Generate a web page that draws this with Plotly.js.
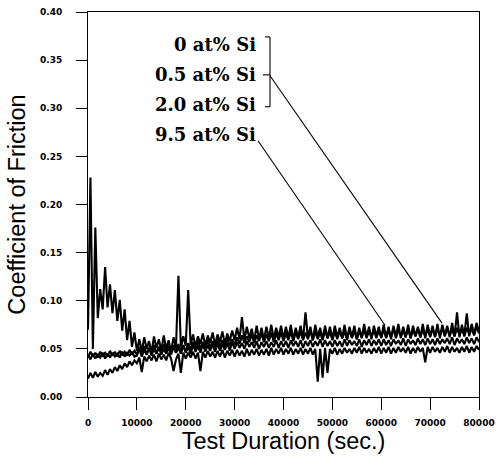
<!DOCTYPE html>
<html>
<head>
<meta charset="utf-8">
<script src="https://cdn.plot.ly/plotly-3.0.1.min.js"></script>
<style>html,body{margin:0;padding:0;background:#fff;}#chart{width:500px;height:466px;}</style>
</head>
<body>
<div id="chart"></div>
<script>
// Sampling times (sec.)
var time = [
  0,500,1000,1500,2000,2500,3000,3500,4000,4500,5000,5500,6000,6500,7000,7500,8000,8500,9000,9500,
  10000,10500,11000,11500,12000,12500,13000,13500,14000,14500,15000,15500,16000,16500,17000,17500,18000,18500,19000,19500,
  20000,20500,21000,21500,22000,22500,23000,23500,24000,24500,25000,25500,26000,26500,27000,27500,28000,28500,29000,29500,
  30000,30500,31000,31500,32000,32500,33000,33500,34000,34500,35000,35500,36000,36500,37000,37500,38000,38500,39000,39500,
  40000,40500,41000,41500,42000,42500,43000,43500,44000,44500,45000,45500,46000,46500,47000,47500,48000,48500,49000,49500,
  50000,50500,51000,51500,52000,52500,53000,53500,54000,54500,55000,55500,56000,56500,57000,57500,58000,58500,59000,59500,
  60000,60500,61000,61500,62000,62500,63000,63500,64000,64500,65000,65500,66000,66500,67000,67500,68000,68500,69000,69500,
  70000,70500,71000,71500,72000,72500,73000,73500,74000,74500,75000,75500,76000,76500,77000,77500,78000,78500,79000,79500,
  80000
];

// Coefficient of friction, 0 at% Si
var cof_0 = [
  0.070,0.228,0.050,0.176,0.082,0.112,0.091,0.135,0.093,0.117,0.087,0.111,0.079,0.101,0.069,0.091,0.059,0.079,0.052,0.067,
  0.048,0.060,0.047,0.062,0.050,0.058,0.046,0.063,0.051,0.060,0.048,0.064,0.050,0.059,0.047,0.062,0.051,0.126,0.052,0.063,
  0.053,0.111,0.054,0.065,0.052,0.063,0.055,0.066,0.053,0.064,0.056,0.067,0.054,0.065,0.057,0.068,0.055,0.066,0.058,0.069,
  0.059,0.072,0.060,0.083,0.059,0.073,0.061,0.071,0.058,0.074,0.060,0.072,0.059,0.073,0.061,0.075,0.060,0.072,0.062,0.074,
  0.060,0.073,0.061,0.075,0.059,0.072,0.062,0.074,0.060,0.088,0.061,0.073,0.059,0.075,0.062,0.072,0.060,0.074,0.061,0.073,
  0.060,0.074,0.062,0.072,0.061,0.075,0.059,0.073,0.062,0.074,0.060,0.072,0.061,0.076,0.062,0.073,0.060,0.074,0.063,0.073,
  0.061,0.075,0.062,0.073,0.060,0.074,0.063,0.076,0.061,0.073,0.062,0.075,0.061,0.074,0.063,0.073,0.062,0.076,0.061,0.075,
  0.063,0.074,0.062,0.076,0.061,0.075,0.064,0.074,0.062,0.077,0.063,0.088,0.062,0.075,0.064,0.087,0.063,0.076,0.065,0.077,
  0.068
];

// 0.5 at% Si
var cof_05 = [
  0.041,0.047,0.042,0.046,0.041,0.047,0.043,0.046,0.042,0.048,0.043,0.047,0.042,0.048,0.044,0.047,0.043,0.049,0.044,0.048,
  0.044,0.052,0.045,0.053,0.044,0.051,0.046,0.054,0.045,0.052,0.047,0.055,0.046,0.053,0.047,0.054,0.046,0.055,0.048,0.054,
  0.047,0.056,0.049,0.057,0.048,0.058,0.050,0.057,0.049,0.059,0.051,0.058,0.050,0.060,0.052,0.059,0.051,0.061,0.053,0.060,
  0.054,0.062,0.055,0.064,0.056,0.063,0.057,0.065,0.056,0.064,0.058,0.066,0.057,0.065,0.058,0.067,0.057,0.066,0.059,0.067,
  0.058,0.066,0.059,0.068,0.058,0.067,0.060,0.068,0.059,0.067,0.060,0.069,0.059,0.068,0.060,0.067,0.059,0.069,0.061,0.068,
  0.059,0.068,0.060,0.069,0.061,0.068,0.060,0.070,0.061,0.069,0.060,0.068,0.062,0.070,0.061,0.069,0.062,0.070,0.061,0.069,
  0.062,0.070,0.061,0.069,0.062,0.071,0.061,0.070,0.063,0.069,0.062,0.071,0.061,0.070,0.063,0.071,0.062,0.070,0.063,0.071,
  0.062,0.071,0.063,0.070,0.064,0.072,0.063,0.071,0.064,0.070,0.063,0.072,0.064,0.071,0.063,0.072,0.065,0.071,0.064,0.073,
  0.066
];

// 2.0 at% Si
var cof_20 = [
  0.044,0.039,0.045,0.040,0.044,0.041,0.046,0.040,0.045,0.041,0.046,0.042,0.045,0.041,0.047,0.042,0.046,0.043,0.047,0.042,
  0.043,0.050,0.042,0.049,0.044,0.051,0.043,0.050,0.045,0.052,0.044,0.050,0.045,0.051,0.044,0.052,0.046,0.051,0.045,0.053,
  0.046,0.052,0.045,0.054,0.047,0.053,0.046,0.055,0.047,0.054,0.048,0.055,0.047,0.056,0.048,0.055,0.049,0.056,0.048,0.057,
  0.050,0.057,0.051,0.056,0.050,0.058,0.052,0.057,0.051,0.058,0.050,0.057,0.052,0.058,0.051,0.057,0.052,0.059,0.051,0.058,
  0.052,0.058,0.051,0.059,0.053,0.058,0.052,0.059,0.051,0.058,0.053,0.059,0.052,0.058,0.053,0.060,0.052,0.059,0.053,0.058,
  0.052,0.059,0.053,0.058,0.052,0.060,0.053,0.059,0.054,0.058,0.053,0.060,0.052,0.059,0.054,0.060,0.053,0.059,0.054,0.060,
  0.053,0.060,0.054,0.059,0.053,0.060,0.055,0.059,0.054,0.061,0.053,0.060,0.055,0.059,0.054,0.061,0.055,0.060,0.054,0.061,
  0.055,0.060,0.054,0.061,0.055,0.060,0.056,0.061,0.055,0.062,0.054,0.061,0.056,0.060,0.055,0.062,0.056,0.061,0.055,0.062,
  0.057
];

// 9.5 at% Si
var cof_95 = [
  0.019,0.025,0.020,0.026,0.021,0.025,0.022,0.028,0.023,0.029,0.025,0.031,0.027,0.033,0.029,0.035,0.031,0.037,0.033,0.038,
  0.035,0.041,0.026,0.042,0.037,0.043,0.038,0.044,0.037,0.045,0.039,0.044,0.038,0.046,0.040,0.027,0.039,0.045,0.025,0.046,
  0.040,0.046,0.041,0.047,0.040,0.046,0.027,0.047,0.041,0.048,0.042,0.047,0.041,0.048,0.042,0.049,0.041,0.048,0.043,0.049,
  0.042,0.049,0.043,0.048,0.042,0.050,0.043,0.049,0.044,0.050,0.043,0.049,0.044,0.050,0.043,0.051,0.044,0.050,0.045,0.051,
  0.044,0.050,0.045,0.051,0.044,0.050,0.045,0.051,0.044,0.050,0.045,0.051,0.044,0.050,0.016,0.050,0.020,0.051,0.025,0.050,
  0.045,0.051,0.044,0.050,0.045,0.051,0.046,0.050,0.045,0.051,0.046,0.052,0.045,0.051,0.046,0.050,0.045,0.051,0.046,0.052,
  0.045,0.051,0.046,0.052,0.045,0.051,0.046,0.052,0.047,0.051,0.046,0.052,0.045,0.051,0.046,0.052,0.047,0.051,0.036,0.052,
  0.046,0.052,0.047,0.051,0.046,0.052,0.047,0.053,0.046,0.052,0.047,0.051,0.046,0.052,0.047,0.053,0.046,0.052,0.047,0.053,
  0.049
];

var seriesLabels = ["0 at% Si", "0.5 at% Si", "2.0 at% Si", "9.5 at% Si"];
var xTicks = [0,10000,20000,30000,40000,50000,60000,70000,80000];
var yTicks = [0,0.05,0.10,0.15,0.20,0.25,0.30,0.35,0.40];

var allSeries = [cof_0, cof_05, cof_20, cof_95];
var traces = allSeries.map(function (vals, i) {
  return {
    x: time, y: vals, type: 'scatter', mode: 'lines', name: seriesLabels[i],
    line: {color: '#000', width: 2.1}, showlegend: false, hoverinfo: 'x+y+name'
  };
});

var legendFont = {family: 'DejaVu Serif', size: 18, color: '#000', weight: 'bold'};
var labelY = [0.3658, 0.3347, 0.3036, 0.2725];
var annotations = seriesLabels.map(function (t, i) {
  return {x: 34800, y: labelY[i], xref: 'x', yref: 'y', text: t, showarrow: false,
          xanchor: 'right', yanchor: 'middle', font: legendFont};
});

var ln = {color: '#000', width: 1.1};
var shapes = [
  {type: 'line', xref: 'x', yref: 'y', x0: 37240, y0: 0.3741, x1: 37240, y1: 0.3016, line: ln},
  {type: 'line', xref: 'x', yref: 'y', x0: 36200, y0: 0.3741, x1: 37240, y1: 0.3741, line: ln},
  {type: 'line', xref: 'x', yref: 'y', x0: 35800, y0: 0.3347, x1: 37240, y1: 0.3347, line: ln},
  {type: 'line', xref: 'x', yref: 'y', x0: 36200, y0: 0.3016, x1: 37240, y1: 0.3016, line: ln},
  {type: 'line', xref: 'x', yref: 'y', x0: 37240, y0: 0.3337, x1: 72430, y1: 0.0767, line: ln},
  {type: 'line', xref: 'x', yref: 'y', x0: 34780, y0: 0.2663, x1: 60770, y1: 0.0746, line: ln}
];

var tickFont = {family: 'DejaVu Sans', size: 9, color: '#000', weight: 'bold'};
var titleFont = {family: 'Liberation Sans', size: 23.5, color: '#000'};

var layout = {
  width: 500, height: 466,
  margin: {l: 88, r: 21, t: 12, b: 69, pad: 0},
  paper_bgcolor: '#fff', plot_bgcolor: '#fff',
  xaxis: {
    range: [0, 80000], tickvals: xTicks, ticktext: xTicks.map(String),
    showgrid: false, zeroline: false, showline: true, mirror: true,
    linecolor: '#000', linewidth: 1, ticks: 'outside', ticklen: 12, tickwidth: 1, tickcolor: '#000',
    ticklabelstandoff: 5, tickfont: tickFont,
    title: {text: 'Test Duration (sec.)', font: titleFont, standoff: 4}
  },
  yaxis: {
    range: [0, 0.40], tickvals: yTicks, tickformat: '.2f',
    showgrid: false, zeroline: false, showline: true, mirror: true,
    linecolor: '#000', linewidth: 1, ticks: 'outside', ticklen: 11, tickwidth: 1, tickcolor: '#000',
    ticklabelstandoff: 12, tickfont: tickFont,
    title: {text: 'Coefficient of Friction', font: titleFont, standoff: 7}
  },
  annotations: annotations,
  shapes: shapes
};

Plotly.newPlot('chart', traces, layout, {displayModeBar: false, staticPlot: true});
</script>
</body>
</html>
